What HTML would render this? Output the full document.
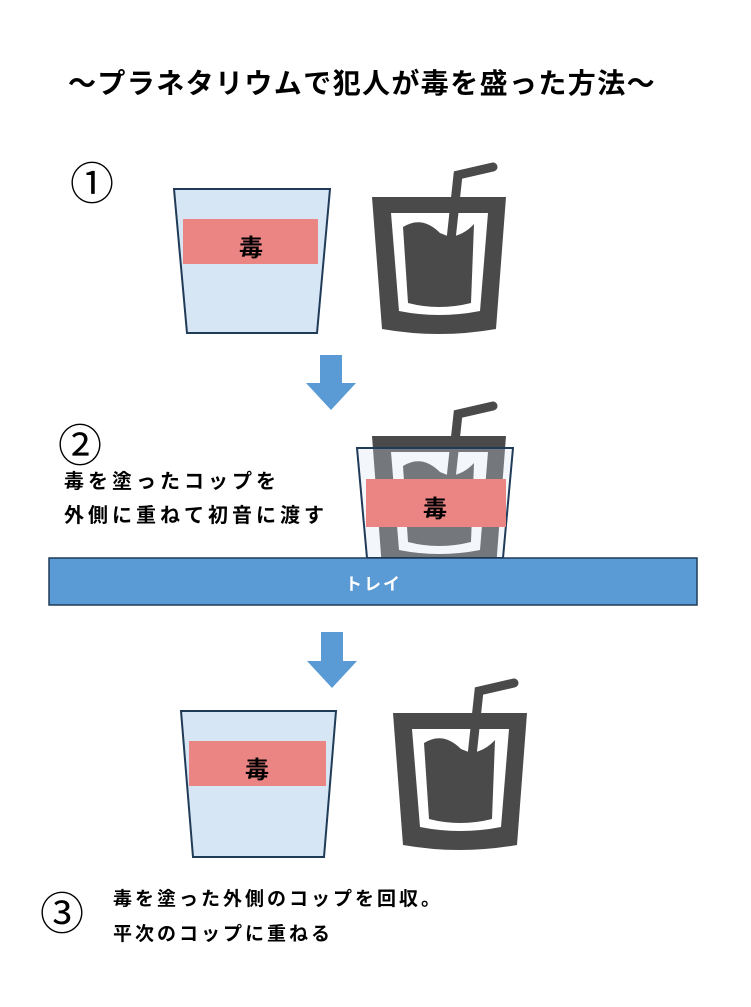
<!DOCTYPE html>
<html><head><meta charset="utf-8"><style>
html,body{margin:0;padding:0;background:#fff;}
body{width:751px;height:1007px;position:relative;overflow:hidden;font-family:"Liberation Sans","Noto Sans CJK JP",sans-serif;}
.t{position:absolute;white-space:nowrap;font-weight:bold;color:#000;}
</style></head><body>
<svg width="751" height="1007" style="position:absolute;left:0;top:0">
<defs>
<g id="icon">
  <path d="M0,0 L134,0 L124,132 Q67,142 10,132 Z" fill="#4a4a4a"/>
  <path d="M19,16 L116,16 L108,114 Q67,122 27,114 Z" fill="#fff"/>
  <path d="M31,30 Q50,18 68,36 L78,40 Q92,38 102,27 L99,106 Q67,114 36,106 Z" fill="#4a4a4a"/>
  <polyline points="78,52 86,-22 121,-30" fill="none" stroke="#4a4a4a" stroke-width="9" stroke-linecap="round" stroke-linejoin="miter"/>
</g>
</defs>
<path d="M174,189 L330,189 L317,333 L187,333 Z" fill="#d6e6f5" stroke="#203b58" stroke-width="2"/>
<rect x="183" y="219" width="135" height="45" fill="#eb8584"/>
<use href="#icon" x="372" y="197"/>
<path d="M320,355 L342,355 L342,383 L356,383 L331,410 L306,383 L320,383 Z" fill="#5b9bd5"/>
<use href="#icon" x="372" y="436"/>
<path d="M357,448 L513,448 L503,558 L367,558 Z" fill="#d6e6f5" fill-opacity="0.3" stroke="#203b58" stroke-width="2"/>
<rect x="366" y="479" width="140" height="48" fill="#eb8584"/>
<rect x="49" y="558" width="648" height="47" fill="#5b9bd5" stroke="#203b58" stroke-width="1.5"/>
<path d="M321,632 L343,632 L343,661 L357,661 L332,688 L307,661 L321,661 Z" fill="#5b9bd5"/>
<path d="M181,711 L336,711 L324,857 L193,857 Z" fill="#d6e6f5" stroke="#203b58" stroke-width="2"/>
<rect x="189" y="741" width="137" height="45" fill="#eb8584"/>
<use href="#icon" x="393" y="713"/>
</svg>
<div class="t" style="left:68px;top:62px;font-size:28px;letter-spacing:1.4px">～プラネタリウムで犯人が毒を盛った方法～</div>
<div class="t" style="left:70px;top:148px;font-size:44px;font-weight:normal">①</div>
<div class="t" style="left:58px;top:410px;font-size:44px;font-weight:normal">②</div>
<div class="t" style="left:40px;top:878px;font-size:44px;font-weight:normal">③</div>
<div class="t" style="left:239px;top:228px;font-size:24px">毒</div>
<div class="t" style="left:423px;top:489px;font-size:24px">毒</div>
<div class="t" style="left:245px;top:750px;font-size:24px">毒</div>
<div class="t" style="left:64px;top:465px;font-size:20px;letter-spacing:4px">毒を塗ったコップを</div>
<div class="t" style="left:64px;top:499px;font-size:20px;letter-spacing:4px">外側に重ねて初音に渡す</div>
<div class="t" style="left:345px;top:570px;font-size:17px;color:#fff;letter-spacing:2px">トレイ</div>
<div class="t" style="left:113px;top:884px;font-size:19px;letter-spacing:3px">毒を塗った外側のコップを回収。</div>
<div class="t" style="left:113px;top:919px;font-size:19px;letter-spacing:3px">平次のコップに重ねる</div>
</body></html>
